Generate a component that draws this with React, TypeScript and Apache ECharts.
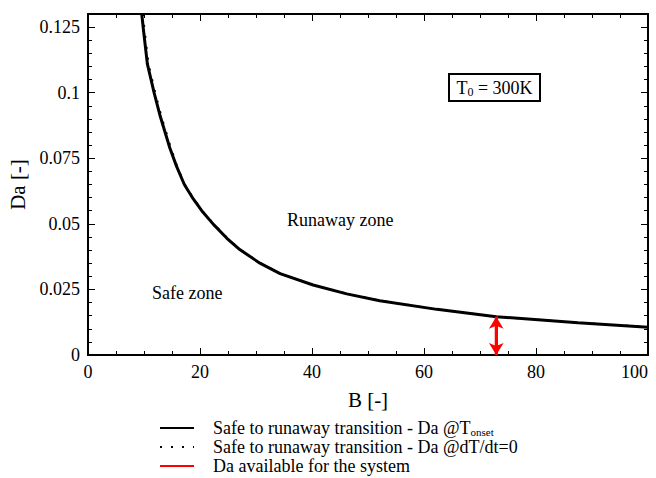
import React, { useEffect, useRef } from "react";
import * as echarts from "echarts";

// Safe-to-runaway boundary, Da @ T_onset (solid)
const onsetB = [9.6, 9.9, 10.6, 11.8, 12.9, 14.6, 15.8, 17.2, 18.8, 20.5, 22.4, 24.8, 27.1, 30.7, 34.3, 40.2, 46.2, 52.1, 62.3, 72.9, 87.5, 100];
const onsetDa = [0.13, 0.124, 0.111, 0.1, 0.091, 0.079, 0.072, 0.065, 0.0595, 0.0545, 0.0498, 0.0445, 0.0402, 0.035, 0.031, 0.0267, 0.0233, 0.0207, 0.0174, 0.0146, 0.0123, 0.0106];
// Safe-to-runaway boundary, Da @ dT/dt=0 (dotted)
const dtdtB = [9.8, 10.1, 10.8, 12.0, 13.1, 14.8, 15.9, 17.3, 18.9, 20.6, 22.5, 24.9, 27.2, 30.8, 34.4, 40.3, 46.3, 52.2, 62.4, 73.0, 87.6, 100];
const dtdtDa = [0.13, 0.124, 0.111, 0.1, 0.091, 0.079, 0.072, 0.065, 0.0595, 0.0545, 0.0498, 0.0445, 0.0402, 0.035, 0.031, 0.0267, 0.0233, 0.0207, 0.0174, 0.0146, 0.0123, 0.0107];
// Da available for the system (red arrow)
const availB = 72.9;
const availDa = [0, 0.0146];

const seriesNames = [
  "Safe to runaway transition - Da @T_onset",
  "Safe to runaway transition - Da @dT/dt=0",
  "Da available for the system",
];

const FONT = "Liberation Serif";

export default function App() {
  const ref = useRef<HTMLDivElement>(null);
  useEffect(() => {
    if (!ref.current) return;
    const chart = echarts.init(ref.current, null, { renderer: "svg" });
    const axisCommon = {
      type: "value" as const,
      axisLine: { show: true, onZero: false, lineStyle: { color: "#000", width: 2 } },
      axisTick: { show: true, inside: true, length: 7, lineStyle: { color: "#000", width: 1 } },
      minorTick: { show: true, length: 4, lineStyle: { color: "#000", width: 1 } },
      splitLine: { show: false },
    };
    chart.setOption({
      animation: false,
      backgroundColor: "#fff",
      grid: { left: 88, right: 8, top: 14, bottom: 123, containLabel: false, outerBoundsMode: "none" },
      xAxis: [
        {
          ...axisCommon,
          position: "bottom",
          min: 0,
          max: 100,
          interval: 20,
          minorTick: { ...axisCommon.minorTick, splitNumber: 4 },
          axisLabel: {
            color: "#000",
            fontFamily: FONT,
            fontSize: 18,
            margin: 8,
            alignMaxLabel: "right",
          },
          name: "B [-]",
          nameLocation: "middle",
          nameGap: 34,
          nameTextStyle: { color: "#000", fontFamily: FONT, fontSize: 21 },
        },
        {
          ...axisCommon,
          position: "top",
          min: 0,
          max: 100,
          interval: 20,
          minorTick: { ...axisCommon.minorTick, splitNumber: 4 },
          axisLabel: { show: false },
        },
      ],
      yAxis: [
        {
          ...axisCommon,
          position: "left",
          min: 0,
          max: 0.13,
          interval: 0.025,
          minorTick: { ...axisCommon.minorTick, splitNumber: 5 },
          axisLabel: { color: "#000", fontFamily: FONT, fontSize: 18, margin: 8, showMaxLabel: false },
          name: "Da [-]",
          nameLocation: "middle",
          nameGap: 56,
          nameTextStyle: { color: "#000", fontFamily: FONT, fontSize: 21 },
        },
        {
          ...axisCommon,
          position: "right",
          min: 0,
          max: 0.13,
          interval: 0.025,
          minorTick: { ...axisCommon.minorTick, splitNumber: 5 },
          axisLabel: { show: false },
        },
      ],
      legend: {
        orient: "vertical",
        left: 159,
        top: 419,
        height: 59,
        padding: 0,
        itemWidth: 34,
        itemHeight: 12,
        itemGap: 1,
        data: seriesNames,
        itemStyle: { opacity: 0 },
        textStyle: {
          color: "#000",
          fontFamily: FONT,
          fontSize: 18,
          lineHeight: 18,
          padding: [0, 0, 0, 14],
          rich: {
            sub: { fontFamily: FONT, fontSize: 11, color: "#000", lineHeight: 11, verticalAlign: "bottom" },
          },
        },
        formatter: (name: string) =>
          name.endsWith("@T_onset") ? name.replace("@T_onset", "@T") + "{sub|onset}" : name,
      },
      series: [
        {
          name: seriesNames[0],
          type: "line",
          xAxisIndex: 0,
          yAxisIndex: 0,
          symbol: "none",
          clip: true,
          lineStyle: { color: "#000", width: 3 },
          itemStyle: { color: "#000" },
          data: onsetB.map((b, i) => [b, onsetDa[i]]),
          z: 3,
        },
        {
          name: seriesNames[1],
          type: "line",
          xAxisIndex: 0,
          yAxisIndex: 0,
          symbol: "none",
          clip: true,
          lineStyle: { color: "#000", width: 2, type: [2, 9] },
          itemStyle: { color: "#000" },
          data: dtdtB.map((b, i) => [b, dtdtDa[i]]),
          z: 2,
        },
        {
          name: seriesNames[2],
          type: "line",
          xAxisIndex: 0,
          yAxisIndex: 0,
          symbol: "none",
          lineStyle: { color: "#ff0000", width: 3 },
          itemStyle: { color: "#ff0000" },
          data: availDa.map((d) => [availB, d]),
          markLine: {
            silent: true,
            symbol: ["arrow", "arrow"],
            symbolSize: [11, 12],
            label: { show: false },
            lineStyle: { color: "#ff0000", width: 3, type: "solid" },
            data: [[{ coord: [availB, availDa[0]] }, { coord: [availB, availDa[1]] }]],
          },
          z: 4,
        },
      ],
      graphic: [
        {
          type: "text",
          left: 287,
          top: 211,
          style: { text: "Runaway zone", font: `18px "${FONT}"`, fill: "#000" },
        },
        {
          type: "text",
          left: 152,
          top: 284,
          style: { text: "Safe zone", font: `18px "${FONT}"`, fill: "#000" },
        },
        {
          type: "rect",
          shape: { x: 449, y: 74, width: 91, height: 27 },
          style: { fill: "#fff", stroke: "#000", lineWidth: 2 },
          z: 10,
        },
        {
          type: "text",
          x: 494.5,
          y: 87.5,
          z: 11,
          style: {
            text: "{t|T}{s|0}{t| = 300K}",
            align: "center",
            verticalAlign: "middle",
            rich: {
              t: { fontFamily: FONT, fontSize: 18, fill: "#000" },
              s: { fontFamily: FONT, fontSize: 12, fill: "#000", padding: [8, 0, 0, 0] },
            },
          },
        },
      ],
    });
    return () => chart.dispose();
  }, []);
  return <div ref={ref} style={{ width: 656, height: 478, position: "absolute", left: 0, top: 0 }} />;
}
